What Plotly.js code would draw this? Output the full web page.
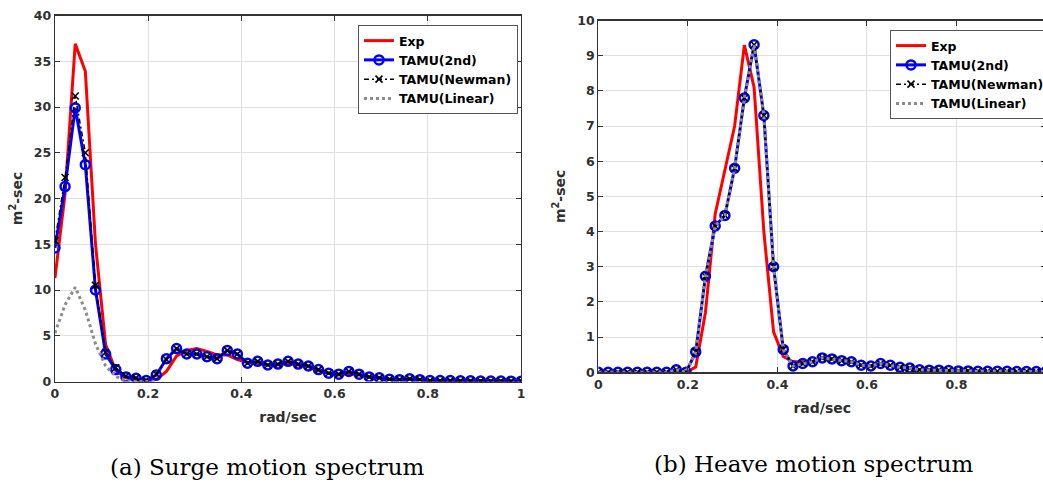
<!DOCTYPE html>
<html>
<head>
<meta charset="utf-8">
<script src="https://cdn.plot.ly/plotly-3.0.1.min.js"></script>
<style>
html,body{margin:0;padding:0;overflow:hidden;background:#fff;}
#chart{width:1050px;height:483px;}
</style>
</head>
<body>
<div id="chart"></div>
<script>
// frequency grid (rad/sec)
const freq = [0, 0.0217, 0.0435, 0.0652, 0.0870, 0.1087, 0.1304, 0.1522, 0.1739, 0.1957,
  0.2174, 0.2391, 0.2609, 0.2826, 0.3043, 0.3261, 0.3478, 0.3696, 0.3913, 0.4130,
  0.4348, 0.4565, 0.4783, 0.5000, 0.5217, 0.5435, 0.5652, 0.5870, 0.6087, 0.6304,
  0.6522, 0.6739, 0.6957, 0.7174, 0.7391, 0.7609, 0.7826, 0.8043, 0.8261, 0.8478,
  0.8696, 0.8913, 0.9130, 0.9348, 0.9565, 0.9783, 1.0000];

// (a) Surge motion spectrum, m^2-sec
const surgeExp = [11.3, 20.5, 36.9, 33.9, 15.0, 4.0, 1.2, 0.4, 0.2, 0.1,
  0.2, 1.1, 2.8, 3.4, 3.6, 3.3, 2.9, 2.9, 2.4, 2.1,
  2.0, 1.8, 1.8, 2.0, 1.8, 1.6, 1.2, 0.9, 0.7, 0.9,
  0.7, 0.5, 0.4, 0.25, 0.2, 0.25, 0.2, 0.1, 0.1, 0.08,
  0.08, 0.07, 0.06, 0.05, 0.05, 0.04, 0.04];
const surge2nd = [14.6, 21.3, 29.9, 23.7, 10.0, 3.0, 1.3, 0.5, 0.35, 0.1,
  0.7, 2.5, 3.6, 3.0, 3.0, 2.7, 2.5, 3.4, 3.0, 2.0,
  2.2, 1.8, 1.9, 2.2, 1.9, 1.7, 1.3, 0.9, 0.8, 1.1,
  0.8, 0.5, 0.4, 0.25, 0.2, 0.3, 0.2, 0.1, 0.1, 0.1,
  0.08, 0.08, 0.06, 0.05, 0.05, 0.04, 0.04];
const surgeNewman = [15.4, 22.3, 31.2, 25.0, 10.5, 3.2, 1.5, 0.6, 0.4, 0.15,
  0.8, 2.4, 3.6, 3.0, 3.0, 2.7, 2.5, 3.4, 3.0, 2.0,
  2.2, 1.8, 1.9, 2.2, 1.9, 1.7, 1.3, 0.9, 0.8, 1.1,
  0.8, 0.5, 0.4, 0.25, 0.2, 0.3, 0.2, 0.1, 0.1, 0.1,
  0.08, 0.08, 0.06, 0.05, 0.05, 0.04, 0.04];
const surgeLinear = [5.3, 8.4, 10.3, 7.8, 4.1, 1.7, 0.55, 0.1, 0.0, 0.0, 0.0];

// (b) Heave motion spectrum, m^2-sec
const heaveExp = [0, 0, 0, 0, 0, 0, 0, 0, 0, 0,
  0.15, 1.7, 4.5, 5.8, 7.0, 9.3, 8.1, 4.0, 1.15, 0.45,
  0.3, 0.3, 0.3, 0.4, 0.38, 0.33, 0.3, 0.2, 0.18, 0.25,
  0.2, 0.14, 0.12, 0.07, 0.06, 0.06, 0.05, 0.04, 0.04, 0.03,
  0.03, 0.03, 0.03, 0.02, 0.02, 0.02, 0.02];
const heave2nd = [0, 0, 0, 0, 0, 0, 0, 0, 0.07, 0,
  0.58, 2.73, 4.16, 4.46, 5.8, 7.8, 9.31, 7.3, 3.0, 0.65,
  0.18, 0.25, 0.3, 0.41, 0.38, 0.33, 0.3, 0.2, 0.18, 0.25,
  0.2, 0.14, 0.12, 0.07, 0.06, 0.06, 0.05, 0.04, 0.04, 0.03,
  0.03, 0.03, 0.03, 0.02, 0.02, 0.02, 0.02];
const heaveNewman = [0, 0, 0, 0, 0, 0, 0, 0, 0.07, 0,
  0.58, 2.73, 4.16, 4.46, 5.8, 7.8, 9.31, 7.3, 3.0, 0.65,
  0.18, 0.25, 0.3, 0.41, 0.38, 0.33, 0.3, 0.2, 0.18, 0.25,
  0.2, 0.14, 0.12, 0.07, 0.06, 0.06, 0.05, 0.04, 0.04, 0.03,
  0.03, 0.03, 0.03, 0.02, 0.02, 0.02, 0.02];
const heaveLinear = [0, 0, 0, 0, 0, 0, 0, 0, 0.07, 0,
  0.58, 2.73, 4.16, 4.46, 5.8, 7.8, 9.31, 7.3, 3.0, 0.65,
  0.18, 0.25, 0.3, 0.41, 0.38, 0.33, 0.3, 0.2, 0.18, 0.25,
  0.2, 0.14, 0.12, 0.07, 0.06, 0.06, 0.05, 0.04, 0.04, 0.03,
  0.03, 0.03, 0.03, 0.02, 0.02, 0.02, 0.02];

const seriesNames = ['Exp', 'TAMU(2nd)', 'TAMU(Newman)', 'TAMU(Linear)'];
const xTitle = 'rad/sec';
const yTitle = 'm<sup>2</sup>-sec';
const captions = ['(a) Surge motion spectrum', '(b) Heave motion spectrum'];
const xTicksA = [0, 0.2, 0.4, 0.6, 0.8, 1];
const xTickTextA = ['0', '0.2', '0.4', '0.6', '0.8', '1'];
const xTicksB = [0, 0.2, 0.4, 0.6, 0.8];
const xTickTextB = ['0', '0.2', '0.4', '0.6', '0.8'];

function makeTraces(ys, xa, ya, leg) {
  return [
    {x: freq.slice(0, ys[0].length), y: ys[0], name: seriesNames[0], xaxis: xa, yaxis: ya, legend: leg,
     mode: 'lines', line: {color: '#ff0000', width: 3}},
    {x: freq.slice(0, ys[1].length), y: ys[1], name: seriesNames[1], xaxis: xa, yaxis: ya, legend: leg,
     mode: 'lines+markers', line: {color: '#0000ff', width: 3},
     marker: {symbol: 'circle-open', size: 9, color: '#0000ff', line: {width: 2.5, color: '#0000ff'}}},
    {x: freq.slice(0, ys[2].length), y: ys[2], name: seriesNames[2], xaxis: xa, yaxis: ya, legend: leg,
     mode: 'lines+markers', line: {color: '#000000', width: 1.5, dash: '5px,3px,2px,3px'},
     marker: {symbol: 'x-thin-open', size: 7, color: '#000000', line: {width: 1.6, color: '#000000'}}},
    {x: freq.slice(0, ys[3].length), y: ys[3], name: seriesNames[3], xaxis: xa, yaxis: ya, legend: leg,
     mode: 'lines', line: {color: '#8c8c8c', width: 3, dash: 'dot'}}
  ];
}

const traces = [].concat(
  makeTraces([surgeExp, surge2nd, surgeNewman, surgeLinear], 'x', 'y', 'legend'),
  makeTraces([heaveExp, heave2nd, heaveNewman, heaveLinear], 'x2', 'y2', 'legend2')
);

const W = 1050, H = 483;
const tickFont = {family: 'DejaVu Sans', size: 12.5, color: '#303030', weight: 'bold'};
const titleFont = {family: 'DejaVu Sans', size: 14, color: '#303030', weight: 'bold'};
const legFont = {family: 'DejaVu Sans', size: 12.5, color: '#000000', weight: 'bold'};

function xAxis(domain, anchor, range, tv, tt) {
  return {domain: domain, anchor: anchor, range: range, tickvals: tv, ticktext: tt,
    ticks: 'inside', ticklen: 5, tickcolor: '#333333', tickwidth: 1, mirror: 'allticks',
    showline: true, linecolor: '#333333', linewidth: 1.2,
    showgrid: true, gridcolor: '#e0e0e0', gridwidth: 1, zeroline: false,
    tickfont: tickFont, title: {text: xTitle, font: titleFont, standoff: 12}};
}
function yAxis(domain, anchor, range, dtick) {
  return {domain: domain, anchor: anchor, range: range, dtick: dtick,
    ticks: 'inside', ticklen: 5, tickcolor: '#333333', tickwidth: 1, mirror: 'allticks',
    showline: true, linecolor: '#333333', linewidth: 1.2,
    showgrid: true, gridcolor: '#e0e0e0', gridwidth: 1, zeroline: false,
    tickfont: tickFont, title: {text: yTitle, font: titleFont, standoff: 8}};
}

const layout = {
  width: W, height: H,
  margin: {l: 0, r: 0, t: 0, b: 0},
  paper_bgcolor: '#ffffff', plot_bgcolor: '#ffffff',
  showlegend: true,
  xaxis: xAxis([55 / W, 521.7 / W], 'y', [0, 1], xTicksA, xTickTextA),
  yaxis: yAxis([1 - 381.5 / H, 1 - 15.5 / H], 'x', [0, 40], 5),
  xaxis2: xAxis([599 / W, 1047 / W], 'y2', [0, 1], xTicksB, xTickTextB),
  yaxis2: yAxis([1 - 372.3 / H, 1 - 20.5 / H], 'x2', [0, 10], 1),
  legend: {x: 358 / W, y: 1 - 25 / H, xanchor: 'left', yanchor: 'top', bgcolor: '#ffffff',
    bordercolor: '#555555', borderwidth: 1, font: legFont, itemwidth: 30, tracegroupgap: 0},
  legend2: {x: 891 / W, y: 1 - 30 / H, xanchor: 'left', yanchor: 'top', bgcolor: '#ffffff',
    bordercolor: '#555555', borderwidth: 1, font: legFont, itemwidth: 30, tracegroupgap: 0},
  annotations: [
    {text: captions[0], xref: 'paper', yref: 'paper', x: 267.5 / W, y: 1 - 467 / H,
     xanchor: 'center', yanchor: 'middle', showarrow: false,
     font: {family: 'DejaVu Serif', size: 23, color: '#000000'}},
    {text: captions[1], xref: 'paper', yref: 'paper', x: 815 / W, y: 1 - 464 / H,
     xanchor: 'center', yanchor: 'middle', showarrow: false,
     font: {family: 'DejaVu Serif', size: 23, color: '#000000'}}
  ]
};

Plotly.newPlot('chart', traces, layout, {staticPlot: true, displayModeBar: false});
</script>
</body>
</html>
